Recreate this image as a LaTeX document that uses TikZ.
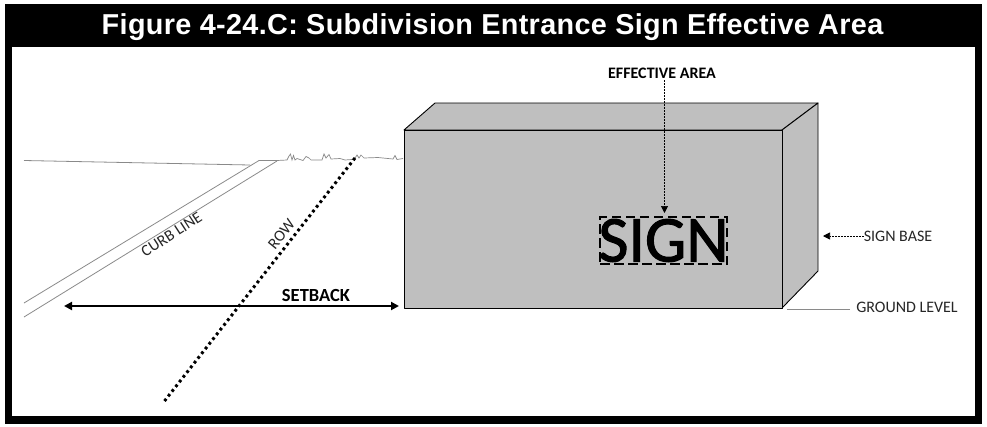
\documentclass[tikz,border=0pt]{standalone}
\usepackage{fontspec}
\setmainfont{Carlito}
\newfontfamily\titlefont{Liberation Sans}[LetterSpace=1.2]
\newfontfamily\signfont{Carlito}[FakeBold=1.6]
\usetikzlibrary{arrows.meta}
\definecolor{boxgray}{HTML}{BFBFBF}
\definecolor{linegray}{HTML}{8A8A8A}
\tikzset{
  x=1pt,y=-1pt,
  lbl/.style={inner sep=0pt,font=\fontsize{16}{18}\selectfont,text=black!85},
  boldlbl/.style={inner sep=0pt,font=\fontsize{16}{18}\selectfont\bfseries,text=black},
  boxface/.style={fill=boxgray,draw=black,line width=0.9pt,line join=round},
  thinline/.style={draw=linegray,line width=0.8pt},
  leader/.style={draw=black,line width=0.7pt,dash pattern=on 2pt off 1pt,-{Triangle[width=7pt,length=7pt]}},
}
\begin{document}
\begin{tikzpicture}
\useasboundingbox (0,0) rectangle (987,426);
\fill[white] (0,0) rectangle (987,426);
% frame
\fill[black] (5,4) rectangle (982,424);
\fill[white] (12,47) rectangle (975,416);
\node[inner sep=0pt,text=white,font=\titlefont\bfseries\fontsize{28.8}{32}\selectfont] (title) at (492.5,27) {Figure 4-24.C: Subdivision Entrance Sign Effective Area};
% road
\draw[thinline] (24,160.5) -- (250,165);
\draw[thinline] (24,303) -- (259,160.5) -- (277,160.5);
\draw[thinline] (24,317) -- (277,161);
\draw[thinline,line width=0.7pt] (277,160.5) -- (287,160) -- (289,156) -- (290.5,154) -- (292,160) -- (293.5,155.5) -- (295,160) -- (297,158.5) -- (303,160.5) -- (306,156.5) -- (309,158) -- (311,160) -- (322,160) -- (324,154) -- (326,158) -- (329,154.5) -- (331,159) -- (340,158.5) -- (345,160) -- (352,159.5) -- (355,158) -- (357,155) -- (359,158) -- (361,155) -- (364,158) -- (378,157.5) -- (393,159) -- (395,155.5) -- (397,159.5) -- (403,158.5);
% row line
\coordinate (rowtop) at (355,158);
\coordinate (rowbot) at (164.5,401);
\draw[black,line width=3pt,dash pattern=on 2.8pt off 3.2pt] (rowtop) -- (rowbot);
% box
\path[boxface] (404,130) -- (435,103) -- (818,103) -- (782,130) -- cycle;
\path[boxface] (782,130) -- (818,103) -- (818,271) -- (782,308) -- cycle;
\node[boxface,minimum width=378pt,minimum height=178pt,inner sep=0pt] (front) at (593,219) {};
% SIGN
\node[inner sep=0pt,font=\signfont\fontsize{65.5}{70}\selectfont,text=black] (signtext) at (663.5,240.5) {SIGN};
\node[draw=black,line width=1.8pt,dash pattern=on 9.5pt off 4.5pt,minimum width=127pt,minimum height=47pt,inner sep=0pt] (effbox) at (663.5,240.5) {};
% labels
\node[boldlbl] (efflabel) at (662,73) {EFFECTIVE AREA};
\node[lbl] (baselabel) at (898,236) {SIGN BASE};
\node[lbl] (groundlabel) at (907,307) {GROUND LEVEL};
\node[boldlbl,font=\fontsize{18.5}{20}\selectfont\bfseries] (setlabel) at (316,295.5) {SETBACK};
\node[lbl,rotate=33] (curblabel) at (171.5,234.5) {CURB LINE};
\node[lbl,rotate=51] (rowlabel) at (281.5,234) {ROW};
% connectors
\coordinate (effstart) at (664.5,80);
\coordinate (efftip) at (664.5,213);
\draw[leader] (effstart) -- (efftip);
\draw[leader] (baselabel.west) -- (823,236);
\draw[thinline] (groundlabel.west) ++(-6,2) -- (787,309);
\coordinate (setl) at (64,306);
\coordinate (setr) at (399,306);
\draw[black,line width=2.2pt,{Triangle[width=8pt,length=8pt]}-{Triangle[width=8pt,length=8pt]}] (setl) -- (setr);
\end{tikzpicture}
\end{document}
